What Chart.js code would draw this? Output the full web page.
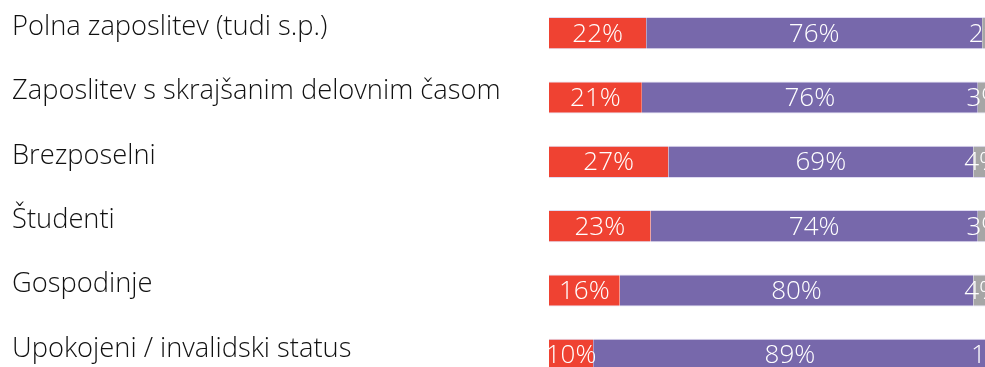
<!DOCTYPE html>
<html>
<head>
<meta charset="utf-8">
<script src="https://cdn.jsdelivr.net/npm/chart.js@4/dist/chart.umd.min.js"></script>
<style>
  html, body { margin: 0; padding: 0; background: #fff; overflow: hidden; }
  #wrap { position: relative; width: 993px; height: 388px; }
</style>
</head>
<body>
<div id="wrap"><canvas id="myChart"></canvas></div>
<script>
'use strict';

const categories = [
  'Polna zaposlitev (tudi s.p.)',
  'Zaposlitev s skrajšanim delovnim časom',
  'Brezposelni',
  'Študenti',
  'Gospodinje',
  'Upokojeni / invalidski status'
];

const seriesNames = ['Da', 'Ne', 'Ne vem'];
const yesValues = [22, 21, 27, 23, 16, 10];
const noValues = [76, 76, 69, 74, 80, 89];
const unsureValues = [2, 3, 4, 3, 4, 1];

const seriesColors = ['#ef4232', '#7768ab', '#a6a6a6'];

// category names on the left, percentages in the middle of every segment
const barText = {
  id: 'barText',
  afterDatasetsDraw(chart) {
    const ctx = chart.ctx;
    ctx.save();
    ctx.textBaseline = 'middle';

    ctx.fillStyle = '#111111';
    ctx.font = '300 27.3px "Open Sans"';
    ctx.textAlign = 'left';
    const first = chart.getDatasetMeta(0);
    first.data.forEach((bar, j) => {
      ctx.fillText(chart.data.labels[j], 12, bar.y - 6);
    });

    ctx.fillStyle = '#ffffff';
    ctx.font = '300 26px "Open Sans"';
    ctx.textAlign = 'center';
    chart.data.datasets.forEach((dataset, i) => {
      const meta = chart.getDatasetMeta(i);
      meta.data.forEach((bar, j) => {
        const x = (bar.x + bar.base) / 2;
        ctx.fillText(dataset.data[j] + '%', x, bar.y + 1);
      });
    });
    ctx.restore();
  }
};

const data = {
  labels: categories,
  datasets: [
    { label: seriesNames[0], data: yesValues, backgroundColor: seriesColors[0] },
    { label: seriesNames[1], data: noValues, backgroundColor: seriesColors[1] },
    { label: seriesNames[2], data: unsureValues, backgroundColor: seriesColors[2] }
  ].map(ds => Object.assign(ds, {
    borderColor: 'rgba(220, 215, 240, 0.9)',
    borderWidth: { top: 1, bottom: 1, left: 0, right: 0 },
    borderSkipped: false,
    categoryPercentage: 0.5,
    barPercentage: 1
  }))
};

const config = {
  type: 'bar',
  data: data,
  plugins: [barText],
  options: {
    indexAxis: 'y',
    responsive: true,
    maintainAspectRatio: false,
    animation: false,
    layout: { padding: { top: 1, right: 2, bottom: 1, left: 549 } },
    plugins: {
      legend: { display: false },
      tooltip: { enabled: false }
    },
    scales: {
      x: { stacked: true, min: 0, max: 100, display: false },
      y: { stacked: true, display: false }
    }
  }
};

const canvasChart = document.getElementById('myChart');
new Chart(canvasChart, config);
</script>
</body>
</html>
